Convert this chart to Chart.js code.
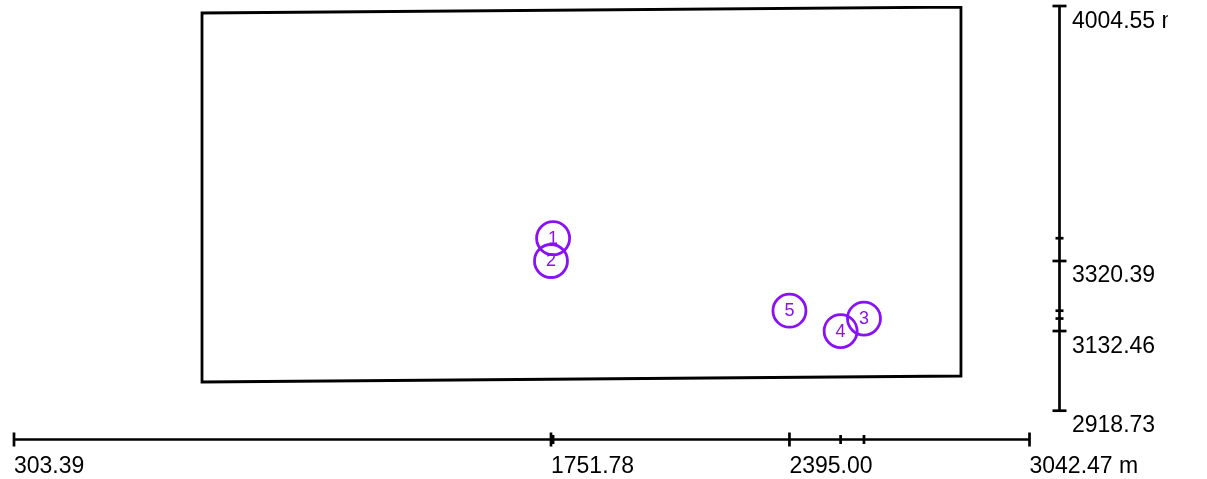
<!DOCTYPE html>
<html>
<head>
<meta charset="utf-8">
<title>Survey points</title>
<script src="https://cdn.jsdelivr.net/npm/chart.js@4/dist/chart.umd.min.js"></script>
<style>
  html, body { margin: 0; padding: 0; background: #ffffff; }
  canvas { display: block; }
</style>
</head>
<body>
<canvas id="plot" width="1207" height="479"></canvas>
<script>
// Survey stations (easting / northing, metres)
const stationIds = ['1', '2', '3', '4', '5'];
const stationX = [1757.5, 1751.78, 2596.0, 2533.0, 2395.00];
const stationY = [3381.5, 3320.39, 3166.0, 3132.46, 3187.0];

// Site boundary, closed polygon
const boundaryX = [810.5, 2857.6, 2857.6, 810.5, 810.5];
const boundaryY = [3985.8, 4001.9, 3011.8, 2995.7, 3985.8];

// Axis extents and labelled ticks
const xRange = [303.39, 3042.47];
const yRange = [2918.73, 4004.55];
const xTickLabels = ['303.39', '1751.78', '2395.00', '3042.47 m'];
const yTickLabels = ['4004.55 m', '3320.39', '3132.46', '2918.73'];

const PURPLE = '#8a10f5';
const INK = '#000000';
const LABEL_FONT = '23px "Liberation Sans", Arial, sans-serif';

const stationPoints = stationX.map((x, i) => ({ x, y: stationY[i] }));
const boundaryPoints = boundaryX.map((x, i) => ({ x, y: boundaryY[i] }));

// Draws station numbers inside the circles
const stationLabels = {
  id: 'stationLabels',
  afterDatasetsDraw(chart) {
    const { ctx } = chart;
    const meta = chart.getDatasetMeta(1);
    ctx.save();
    ctx.fillStyle = PURPLE;
    ctx.font = '18px "Liberation Sans", Arial, sans-serif';
    ctx.textAlign = 'center';
    ctx.textBaseline = 'middle';
    meta.data.forEach((pt, i) => {
      ctx.fillText(stationIds[i], pt.x, pt.y + 0.5);
    });
    ctx.restore();
  }
};

// Detached measuring axes: one below the plot, one to its right
const measureAxes = {
  id: 'measureAxes',
  afterDraw(chart) {
    const { ctx } = chart;
    const sx = chart.scales.x;
    const sy = chart.scales.y;
    const axisY = 439.5;
    const axisX = 1059.5;
    ctx.save();
    ctx.strokeStyle = INK;
    ctx.fillStyle = INK;
    ctx.lineWidth = 2.7;

    // bottom axis
    const xa = sx.getPixelForValue(xRange[0]);
    const xb = sx.getPixelForValue(xRange[1]);
    ctx.beginPath();
    ctx.moveTo(xa, axisY); ctx.lineTo(xb, axisY);
    ctx.stroke();
    const xMajor = xTickLabels.map(s => parseFloat(s));
    const xTicks = xMajor.map(v => ({ v, h: 7 }))
      .concat(stationX.filter(v => !xMajor.includes(v)).map(v => ({ v, h: 4.5 })));
    xTicks.forEach(t => {
      const px = sx.getPixelForValue(t.v);
      ctx.beginPath();
      ctx.moveTo(px, axisY - t.h); ctx.lineTo(px, axisY + t.h);
      ctx.stroke();
    });
    ctx.font = LABEL_FONT;
    ctx.textAlign = 'left';
    ctx.textBaseline = 'alphabetic';
    xTickLabels.forEach(s => {
      ctx.fillText(s, sx.getPixelForValue(parseFloat(s)), 473);
    });

    // right axis
    const ya = sy.getPixelForValue(yRange[1]);
    const yb = sy.getPixelForValue(yRange[0]);
    ctx.beginPath();
    ctx.moveTo(axisX, ya); ctx.lineTo(axisX, yb);
    ctx.stroke();
    const yMajor = yTickLabels.map(s => parseFloat(s));
    const yTicks = yMajor.map(v => ({ v, h: 7 }))
      .concat(stationY.filter(v => !yMajor.includes(v)).map(v => ({ v, h: 4 })));
    yTicks.forEach(t => {
      const py = sy.getPixelForValue(t.v);
      ctx.beginPath();
      ctx.moveTo(axisX - t.h, py); ctx.lineTo(axisX + t.h, py);
      ctx.stroke();
    });
    yTickLabels.forEach((s, i) => {
      const py = sy.getPixelForValue(parseFloat(s));
      ctx.save();
      if (i === 0) {
        // top label is cut at the frame edge
        ctx.beginPath();
        ctx.rect(1060, 0, 108, 40);
        ctx.clip();
      }
      ctx.fillText(s, 1072, py + 21.5);
      ctx.restore();
    });
    ctx.restore();
  }
};

new Chart(document.getElementById('plot'), {
  type: 'scatter',
  data: {
    datasets: [
      {
        label: 'Boundary',
        data: boundaryPoints,
        showLine: true,
        borderColor: INK,
        borderWidth: 2.8,
        borderCapStyle: 'square',
        borderJoinStyle: 'miter',
        pointRadius: 0,
        fill: false,
        tension: 0,
        order: 2
      },
      {
        label: 'Stations',
        data: stationPoints,
        showLine: false,
        pointStyle: 'circle',
        pointRadius: 16.5,
        pointHoverRadius: 16.5,
        pointBorderWidth: 2.8,
        borderColor: PURPLE,
        backgroundColor: 'rgba(0,0,0,0)',
        order: 1
      }
    ]
  },
  options: {
    responsive: false,
    animation: false,
    events: [],
    layout: { autoPadding: false, padding: { left: 14, right: 177.5, top: 6, bottom: 68.3 } },
    plugins: { legend: { display: false }, tooltip: { enabled: false } },
    scales: {
      x: { type: 'linear', display: false, min: xRange[0], max: xRange[1] },
      y: { type: 'linear', display: false, min: yRange[0], max: yRange[1] }
    }
  },
  plugins: [stationLabels, measureAxes]
});
</script>
</body>
</html>
